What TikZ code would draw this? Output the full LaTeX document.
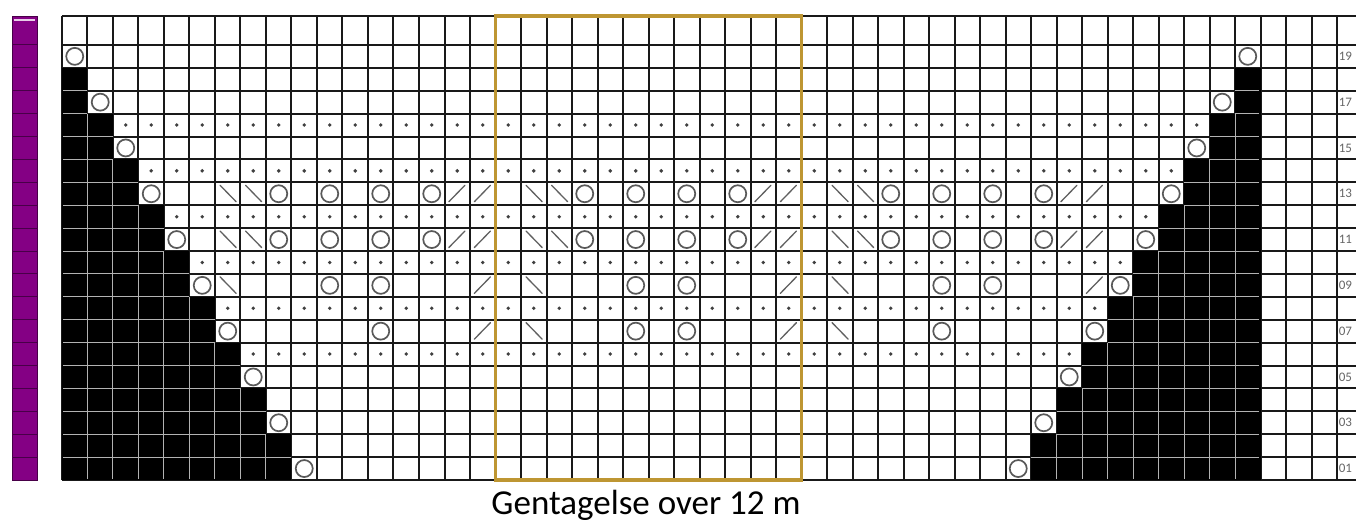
\documentclass[tikz,border=0pt]{standalone}
\usepackage{fontspec}
\setmainfont{Carlito}
\usepackage{tikz}
\usetikzlibrary{positioning}
\definecolor{repgold}{RGB}{190,150,50}
\definecolor{barpurple}{RGB}{132,0,132}
\definecolor{bardark}{RGB}{72,0,72}

\begin{document}
\begin{tikzpicture}[
    x=25.5pt, y=22.9pt,
    gridline/.style={black!90, line width=2pt},
    blackcell/.style={fill=black},
    innerline/.style={draw=gray!60, line width=1pt},
    yarnover/.style={draw=gray!70!black, line width=1.7pt},
    slant/.style={draw=gray!75!black, line width=1.3pt, line cap=round},
    purldot/.style={fill=black!75},
    rownum/.style={anchor=west, inner sep=0pt, text=black!60, font=\fontsize{13}{13}\selectfont},
    caption/.style={inner sep=0pt, font=\fontsize{35}{40}\selectfont}
]
\useasboundingbox[fill=white] (-2.431,-1.878) rectangle (50.745,20.961);

% purple bar
\fill[barpurple] (-1.96,0) rectangle (-0.98,20.262);
\foreach \r in {1,...,19}
    \draw[bardark, line width=1pt] (-1.96,\r) -- (-0.98,\r);
\draw[white!80!barpurple, line width=1.8pt] (-1.9,20.1) -- (-1.04,20.1);
\draw[bardark, line width=1pt] (-1.96,0) rectangle (-0.98,20.262);

% grid
\foreach \c in {0,...,50}
    \draw[gridline] (\c,0) -- (\c,20.262);
\foreach \r in {0,...,19}
    \draw[gridline] (0,\r) -- (50.745,\r);
\draw[gridline] (0,20.262) -- (50.745,20.262);

% black cells
\foreach \r in {1,...,18} {
    \pgfmathtruncatemacro\nL{(20-\r)/2}
    \pgfmathtruncatemacro\sR{38+(\r+1)/2}
    \foreach \c in {1,...,\nL}
        \fill[blackcell] (\c-1,\r-1) rectangle (\c,\r);
    \foreach \c in {\sR,...,47}
        \fill[blackcell] (\c-1,\r-1) rectangle (\c,\r);
}
\foreach \c in {1,...,8}
    \draw[innerline] (\c,0.05) -- (\c,18-2*\c);
\foreach \c in {39,...,46}
    \draw[innerline] (\c,0.05) -- (\c,2*\c-76);
\foreach \r in {1,...,17} {
    \pgfmathtruncatemacro\nL{(19-\r)/2}
    \pgfmathtruncatemacro\sR{37+(\r+2)/2}
    \draw[innerline] (0.05,\r) -- (\nL,\r);
    \draw[innerline] (\sR,\r) -- (46.95,\r);
}

% edge yarn overs
\foreach \r in {1,3,...,19} {
    \pgfmathtruncatemacro\colL{(21-\r)/2}
    \pgfmathtruncatemacro\colR{37+(\r+1)/2}
    \draw[yarnover] (\colL-0.5,\r-0.5) circle[radius=8.5pt];
    \draw[yarnover] (\colR-0.5,\r-0.5) circle[radius=8.5pt];
}

% purl rows
\foreach \r in {6,8,...,16} {
    \pgfmathtruncatemacro\first{(20-\r)/2+1}
    \pgfmathtruncatemacro\last{37+\r/2}
    \foreach \c in {\first,...,\last}
        \fill[purldot] (\c-0.5,\r-0.5) circle[radius=1.9pt];
}

% lace motif
\foreach \r/\cols in {13/{7,8,19,20,31,32}, 11/{7,8,19,20,31,32}, 9/{7,19,31}, 7/{19,31}}
    \foreach \c in \cols
        \draw[slant] (\c-0.8,\r-0.13) -- (\c-0.17,\r-0.85);
\foreach \r/\cols in {13/{16,17,28,29,40,41}, 11/{16,17,28,29,40,41}, 9/{17,29,41}, 7/{17,29}}
    \foreach \c in \cols
        \draw[slant] (\c-0.83,\r-0.85) -- (\c-0.2,\r-0.13);
\foreach \r/\cols in {13/{9,11,13,15,21,23,25,27,33,35,37,39}, 11/{9,11,13,15,21,23,25,27,33,35,37,39}, 9/{11,13,23,25,35,37}, 7/{13,23,25,35}}
    \foreach \c in \cols
        \draw[yarnover] (\c-0.5,\r-0.5) circle[radius=8.5pt];

% row numbers
\foreach \r/\lab in {19/19,17/17,15/15,13/13,11/11,9/09,7/07,5/05,3/03,1/01}
    \node[rownum] (row\lab) at (50.06,\r-0.5) {\lab};

% repeat
\draw[repgold, line width=3.8pt] (17,0) rectangle (29,20.262);
\coordinate (repbottom) at (22.9,0);
\node[caption, below=10pt of repbottom] (caption) {Gentagelse over 12 m};

\end{tikzpicture}
\end{document}
